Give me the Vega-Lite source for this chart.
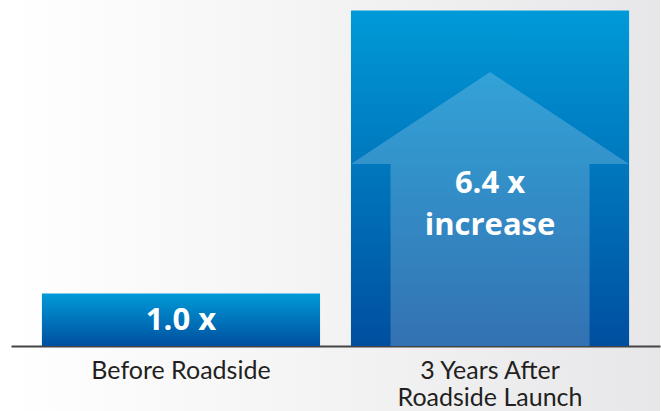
{
  "$schema": "https://vega.github.io/schema/vega-lite/v6.json",
  "width": 649,
  "height": 411,
  "autosize": "none",
  "padding": {"left": 11, "right": 1, "top": 0, "bottom": 0},
  "background": "#ffffff",
  "config": {
    "view": {
      "stroke": null,
      "fill": {"gradient": "linear", "x1": 0, "y1": 0, "x2": 1, "y2": 0, "stops": [{"offset": 0, "color": "#ffffff"}, {"offset": 1, "color": "#e7e7e9"}]}
    }
  },
  "data": {
    "values": [
      {"category": "Before Roadside", "value": 1.0, "label": "1.0 x"},
      {"category": "3 Years After Roadside Launch", "value": 6.4, "label": "6.4 x\nincrease"}
    ]
  },
  "encoding": {
    "x": {
      "field": "category",
      "type": "nominal",
      "sort": null,
      "scale": {"paddingInner": 0.1, "paddingOuter": 0.1},
      "axis": {
        "title": null,
        "ticks": false,
        "tickSize": 0,
        "labelAngle": 0,
        "domainColor": "#444444",
        "domainWidth": 2,
        "labelFont": "Lato",
        "labelFontSize": 25,
        "labelColor": "#231f20",
        "labelPadding": 12,
        "labelLineHeight": 27,
        "labelLimit": 400,
        "offset": -65,
        "zindex": 0,
        "labelExpr": "datum.value == '3 Years After Roadside Launch' ? ['3 Years After', 'Roadside Launch'] : datum.label"
      }
    }
  },
  "layer": [
    {
      "mark": {
        "type": "bar",
        "fill": {"gradient": "linear", "x1": 0, "y1": 0, "x2": 0, "y2": 1, "stops": [{"offset": 0, "color": "#009ad8"}, {"offset": 1, "color": "#004f9f"}]}
      },
      "encoding": {
        "y": {"field": "value", "type": "quantitative", "scale": {"domain": [-1.24, 6.6], "nice": false, "zero": false}, "axis": null},
        "y2": {"datum": 0}
      }
    },
    {
      "mark": {
        "type": "point",
        "shape": "M0,-0.986L1,-0.324L0.716,-0.324L0.716,0.986L-0.716,0.986L-0.716,-0.324L-1,-0.324Z",
        "size": 77284,
        "filled": true,
        "fill": "#ffffff",
        "fillOpacity": 0.2,
        "strokeWidth": 0,
        "opacity": 1
      },
      "transform": [{"filter": "datum.category == '3 Years After Roadside Launch'"}],
      "encoding": {
        "y": {"datum": 2.614}
      }
    },
    {
      "mark": {"type": "text", "font": "Open Sans", "fontWeight": "bold", "fontSize": 31, "color": "#ffffff", "baseline": "middle", "align": "center"},
      "transform": [{"filter": "datum.category == 'Before Roadside'"}],
      "encoding": {
        "y": {"datum": 0.47},
        "text": {"field": "label"}
      }
    },
    {
      "mark": {"type": "text", "font": "Open Sans", "fontWeight": "bold", "fontSize": 31, "color": "#ffffff", "baseline": "middle", "align": "center", "lineBreak": "\n", "lineHeight": 42},
      "transform": [{"filter": "datum.category == '3 Years After Roadside Launch'"}],
      "encoding": {
        "y": {"datum": 3.09},
        "text": {"field": "label"}
      }
    }
  ]
}
